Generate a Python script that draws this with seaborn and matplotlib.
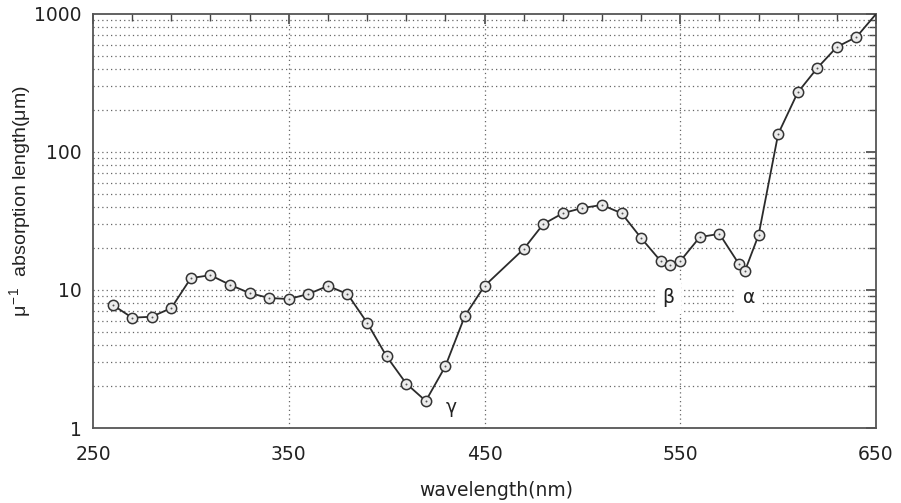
import numpy as np
import pandas as pd
import matplotlib
matplotlib.use("Agg")
import matplotlib.pyplot as plt
import matplotlib.ticker as mticker
import seaborn as sns

# measured points (wavelength in nm, absorption length in um)
wavelength = [260, 270, 280, 290, 300, 310, 320, 330, 340, 350, 360, 370, 380, 390,
              400, 410, 420, 430, 440, 450, 470, 480, 490, 500, 510, 520, 530, 540,
              545, 550, 560, 570, 580, 583, 590, 600, 610, 620, 630, 640]
absorption = [7.8, 6.3, 6.4, 7.4, 12.2, 12.8, 10.9, 9.5, 8.75, 8.6, 9.35, 10.7, 9.35, 5.8,
              3.3, 2.1, 1.57, 2.8, 6.5, 10.7, 19.8, 30, 36, 39.3, 41.3, 36, 23.8, 16.2,
              15.2, 16.2, 24.2, 25.5, 15.4, 13.7, 25, 135, 270, 406, 577, 681]
# curve runs on to the corner of the plot
curve_end_wl = 650
curve_end_abs = 1000

x_ticks = [250, 350, 450, 550, 650]
band_labels = ["γ", "β", "α"]
band_wl = [433, 544, 585]
band_abs = [1.4, 8.8, 8.8]

df = pd.DataFrame({"wavelength": wavelength, "absorption": absorption})
curve = pd.DataFrame({"wavelength": wavelength + [curve_end_wl],
                      "absorption": absorption + [curve_end_abs]})

sns.set_theme(style="white")
plt.rcParams["font.family"] = ["DejaVu Sans"]
plt.rcParams["mathtext.fontset"] = "custom"
plt.rcParams["mathtext.rm"] = "Liberation Sans"
plt.rcParams["mathtext.it"] = "Liberation Sans"

fig = plt.figure(figsize=(9.01, 5.03), dpi=100)
ax = fig.add_axes([0.1032, 0.1491, 0.8691, 0.8231])

sns.lineplot(data=curve, x="wavelength", y="absorption", ax=ax, color="#2b2b2b",
             linewidth=1.3, sort=False, zorder=3)
sns.scatterplot(data=df, x="wavelength", y="absorption", ax=ax, s=55,
                facecolor="#ececec", edgecolor="#333333", linewidth=1.1, zorder=4)
sns.scatterplot(data=df, x="wavelength", y="absorption", ax=ax, s=2,
                color="#555555", linewidth=0, zorder=5)

ax.set_yscale("log")
ax.set_xlim(250, 650)
ax.set_ylim(1, 1000)

ax.xaxis.set_major_locator(mticker.FixedLocator(x_ticks))
ax.xaxis.set_minor_locator(mticker.MultipleLocator(20, offset=10))
ax.yaxis.set_major_locator(mticker.LogLocator(base=10))
ax.yaxis.set_minor_locator(mticker.LogLocator(base=10, subs=np.arange(2, 10)))
ax.yaxis.set_major_formatter(mticker.FuncFormatter(lambda v, p: f"{v:g}"))
ax.yaxis.set_minor_formatter(mticker.NullFormatter())

# dotted grid: verticals only at the inner majors, horizontals at every decade step
grid_style = dict(color="#666666", linestyle=(0, (1, 2.5)), linewidth=0.9, zorder=1)
for xv in x_ticks[1:-1]:
    ax.axvline(xv, **grid_style)
for yv in [10, 100] + [m * d for d in [1, 10, 100] for m in range(2, 10)]:
    ax.axhline(yv, **grid_style)

ax.tick_params(axis="both", which="major", direction="in", length=7, width=1.2,
               colors="#444444", labelcolor="#222222", labelsize=13.5,
               top=True, right=True)
ax.tick_params(axis="x", which="major", pad=12)
ax.tick_params(axis="y", which="major", pad=8)
ax.tick_params(axis="both", which="minor", direction="in", length=5, width=1.0,
               colors="#444444", top=True, right=True)
for sp in ax.spines.values():
    sp.set_color("#555555")
    sp.set_linewidth(1.3)

for lab, xv, yv in zip(band_labels, band_wl, band_abs):
    if lab == "γ":
        ax.text(xv, yv, lab, ha="center", va="center", fontsize=13.5,
                color="#222222", zorder=6)
    else:
        ax.text(xv, yv, lab, ha="center", va="center", fontsize=13.5, color="#222222",
                zorder=2, bbox=dict(facecolor="white", edgecolor="none", pad=5))

ax.set_xlabel("wavelength(nm)", fontsize=13.5, color="#222222")
ax.xaxis.set_label_coords(0.515, -0.128)
ax.set_ylabel(r"$\mu^{-\,1}$  absorption length($\mu$m)", fontsize=14,
              color="#222222", family="Liberation Sans")
ax.yaxis.set_label_coords(-0.077, 0.548)

fig.savefig("out.png", dpi=100)
